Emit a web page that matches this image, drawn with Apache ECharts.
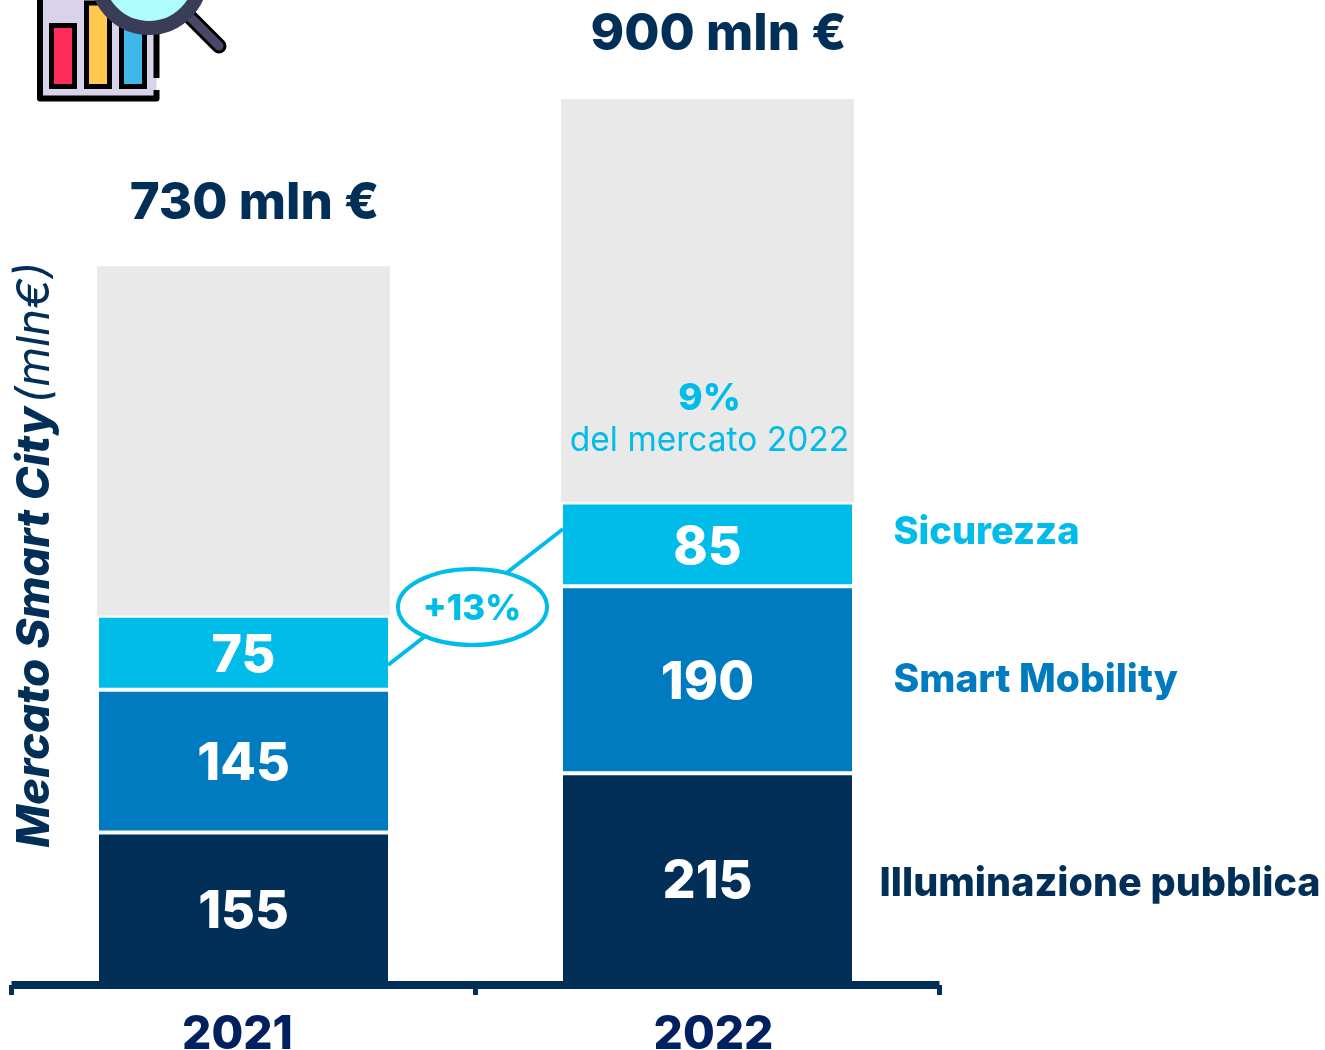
<!DOCTYPE html>
<html>
<head>
<meta charset="utf-8">
<title>Mercato Smart City</title>
<script src="https://cdn.jsdelivr.net/npm/echarts@6/dist/echarts.min.js"></script>
<style>
html,body{margin:0;padding:0;background:#fff;overflow:hidden;}
#main{width:1325px;height:1050px;}
</style>
</head>
<body>
<div id="main"></div>
<script>
var categories = ["2021","2022"];
var illuminazione = [155,215];
var mobility = [145,190];
var sicurezza = [75,85];
var altri = [355,410];
var totals = [730,900];
var yearPad = [[0,12,0,0],[0,0,0,12]];

var navy = "#022F57", blue = "#007BC0", cyan = "#00BCE8", grey = "#E9E9E9";
var font = "Inter";
var barW = 293;

function valueLabel(){
	return {show:true,position:"inside",color:"#fff",fontFamily:font,fontWeight:800,fontSize:52,offset:[0,3.5]};
}
// nome della serie a destra della barra 2022
function sideLabel(text,y,color,dx,size){
	return {
		symbol:"circle",symbolSize:0,silent:true,
		data:[{coord:["2022",y]}],
		label:{show:true,position:"inside",align:"left",verticalAlign:"middle",offset:[dx,0],
			formatter:text,color:color,fontFamily:font,fontWeight:800,fontSize:size}
	};
}

var option = {
	animation:false,
	backgroundColor:"#fff",
	grid:{left:11.5,right:385.5,top:99,bottom:65,containLabel:false,outerBoundsMode:"none"},
	xAxis:{
		type:"category",
		data:categories,
		z:5,
		axisLine:{show:true,lineStyle:{color:navy,width:8,cap:"butt"}},
		axisTick:{show:true,length:10,lineStyle:{color:navy,width:5}},
		axisLabel:{
			margin:27,
			formatter:function(v,i){return "{y"+i+"|"+v+"}";},
			rich:{
				y0:{color:"#002060",fontFamily:font,fontWeight:800,fontSize:46,padding:yearPad[0]},
				y1:{color:"#002060",fontFamily:font,fontWeight:800,fontSize:46,padding:yearPad[1]}
			}
		}
	},
	yAxis:{
		type:"value",min:0,max:900,
		axisLine:{show:false},axisTick:{show:false},axisLabel:{show:false},splitLine:{show:false}
	},
	series:[
		{name:"Illuminazione pubblica",type:"bar",stack:"m",barWidth:barW,data:illuminazione,
			itemStyle:{color:navy,borderColor:"#fff",borderWidth:2},label:valueLabel(),
			markPoint:sideLabel("Illuminazione pubblica",102,navy,172,39.5)},
		{name:"Smart Mobility",type:"bar",stack:"m",barWidth:barW,data:mobility,
			itemStyle:{color:blue,borderColor:"#fff",borderWidth:2},label:valueLabel(),
			markPoint:sideLabel("Smart Mobility",310,blue,186,39)},
		{name:"Sicurezza",type:"bar",stack:"m",barWidth:barW,data:sicurezza,
			itemStyle:{color:cyan,borderColor:"#fff",borderWidth:2},label:valueLabel(),
			markPoint:sideLabel("Sicurezza",460,cyan,186,38)},
		{name:"Altri",type:"bar",stack:"m",barWidth:barW,z:1,
			data:altri.map(function(v,i){return {value:v,label:{distance:i==0?37:39}};}),
			itemStyle:{color:grey},
			label:{show:true,position:"top",offset:[11,0],color:navy,fontFamily:font,fontWeight:800,fontSize:51,
				formatter:function(p){return totals[p.dataIndex]+" mln €";}},
			markPoint:{
				symbol:"circle",symbolSize:0,silent:true,
				data:[{coord:["2022",574]}],
				label:{show:true,position:"inside",align:"center",verticalAlign:"middle",offset:[2,0],
					formatter:"{a|9%}\n{b|del mercato 2022}",
					rich:{
						a:{color:cyan,fontFamily:font,fontWeight:800,fontSize:37,lineHeight:42,align:"center"},
						b:{color:cyan,fontFamily:font,fontWeight:400,fontSize:33.5,lineHeight:42,align:"center"}
					}}
			}}
	],
	graphic:[
		// titolo asse
		{type:"text",x:35,y:555,rotation:Math.PI/2,z:10,
			style:{text:"{a|Mercato Smart City} {b|(mln€)}",align:"center",verticalAlign:"middle",
				rich:{
					a:{fill:navy,fontFamily:font,fontWeight:800,fontStyle:"italic",fontSize:45.5},
					b:{fill:navy,fontFamily:font,fontWeight:400,fontStyle:"italic",fontSize:45.5}
				}}},
		// connettore +13%
		{type:"line",z:10,shape:{x1:388,y1:665,x2:563,y2:529},style:{stroke:cyan,lineWidth:4}},
		{type:"ellipse",z:11,shape:{cx:472.5,cy:607,rx:74.5,ry:38},style:{fill:"#fff",stroke:cyan,lineWidth:4}},
		{type:"text",z:12,x:472,y:609,style:{text:"+13%",align:"center",verticalAlign:"middle",fill:cyan,fontFamily:font,fontWeight:800,fontSize:35}},
		// icona
		{type:"polygon",z:10,shape:{points:[[156.5,-5],[40,-5],[40,98.5],[156.5,98.5]]},style:{fill:"#D8D3EA"}},
		{type:"polyline",z:10,shape:{points:[[156.5,78],[156.5,-5],[40,-5],[40,98.5],[156.5,98.5],[156.5,90]]},
			style:{fill:null,stroke:"#000",lineWidth:6,lineJoin:"round"}},
		{type:"rect",z:11,shape:{x:51.5,y:25.5,width:23,height:61},style:{fill:"#FF2D5C",stroke:"#000",lineWidth:5}},
		{type:"rect",z:11,shape:{x:86.5,y:3,width:23,height:83.5},style:{fill:"#FFC84F",stroke:"#000",lineWidth:5}},
		{type:"rect",z:11,shape:{x:121.5,y:25.5,width:23,height:61},style:{fill:"#3FB7E8",stroke:"#000",lineWidth:5}},
		{type:"line",z:12,shape:{x1:189,y1:16,x2:219,y2:46},style:{stroke:"#000",lineWidth:15,lineCap:"round"}},
		{type:"line",z:13,shape:{x1:189,y1:16,x2:219,y2:46},style:{stroke:"#464A66",lineWidth:9,lineCap:"round"}},
		{type:"circle",z:14,shape:{cx:149,cy:-24,r:52},style:{fill:"#AFFCFF",stroke:"#3A3D58",lineWidth:14}}
	]
};
var chart = echarts.init(document.getElementById("main"),null,{renderer:"canvas"});
chart.setOption(option);
</script>
</body>
</html>
